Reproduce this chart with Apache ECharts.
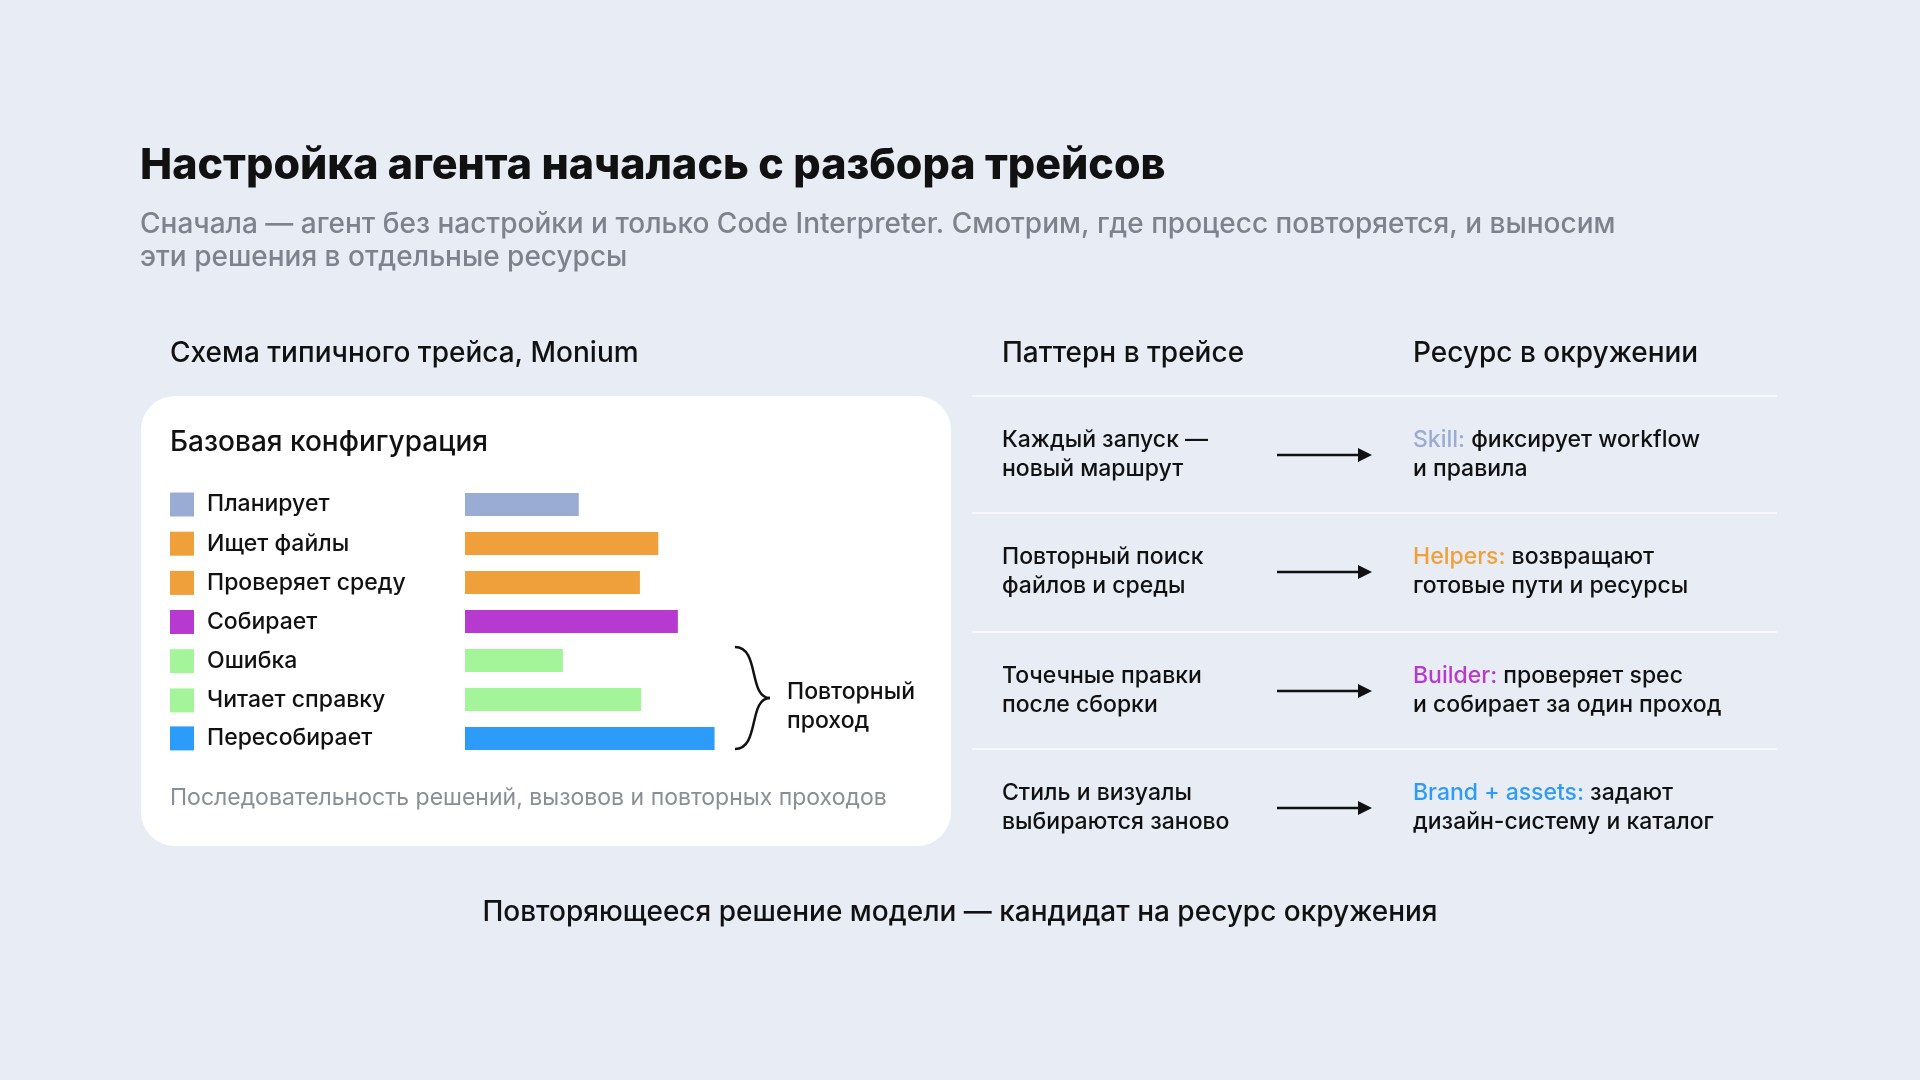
<!DOCTYPE html>
<html><head><meta charset="utf-8">
<script src="https://cdn.jsdelivr.net/npm/echarts@6/dist/echarts.min.js"></script>
<style>html,body{margin:0;padding:0;background:#e8ecf4;}#c{width:1920px;height:1080px;}</style>
</head><body><div id="c"></div>
<script>
const categories = ['Планирует','Ищет файлы','Проверяет среду','Собирает','Ошибка','Читает справку','Пересобирает'];
const durations = [93,158,143,174,80,144,204];
const colors = ['#9aabd4','#f0a03a','#f0a03a','#b63ad0','#a4f59a','#a4f59a','#2c9cf8'];
const patterns = [['Каждый запуск —','новый маршрут'],['Повторный поиск','файлов и среды'],['Точечные правки','после сборки'],['Стиль и визуалы','выбираются заново']];
const resources = [['Skill:',' фиксирует workflow','и правила','#9aabd4'],['Helpers:',' возвращают','готовые пути и ресурсы','#f0a03a'],['Builder:',' проверяет spec','и собирает за один проход','#b63ad0'],['Brand + assets:',' задают','дизайн-систему и каталог','#2c9cf8']];
const F='Inter, "Noto Sans", sans-serif';
const chart=echarts.init(document.getElementById('c'));
const g=[];
function t(x,y,text,size,opt){g.push({type:'text',x,y,style:Object.assign({text,fontSize:size,fontFamily:F,fill:'#111',verticalAlign:'middle'},opt||{})});}
t(140,166,'Настройка агента началась с разбора трейсов',43,{fontWeight:800});
t(140,225,'Сначала — агент без настройки и только Code Interpreter. Смотрим, где процесс повторяется, и выносим',28,{fill:'#7d828c',fontWeight:500});
t(140,258,'эти решения в отдельные ресурсы',28,{fill:'#7d828c',fontWeight:500});
t(170,354,'Схема типичного трейса, Monium',28,{fontWeight:500});
g.push({type:'rect',shape:{x:141,y:396,width:810,height:450,r:34},style:{fill:'#fff'},z:-1});
t(170,443,'Базовая конфигурация',28,{fontWeight:500});
const rowY=[504.5,543.7,582.9,622,661.2,700.4,738.4];
categories.forEach((c,i)=>{g.push({type:'rect',shape:{x:170,y:rowY[i]-12,width:24,height:24},style:{fill:colors[i]}});t(207,rowY[i],c,23,{fontWeight:500});});
g.push({type:'bezierCurve',shape:{x1:735,y1:647,cpx1:760,cpy1:647,cpx2:748,cpy2:698,x2:770,y2:698},style:{stroke:'#111',lineWidth:2.5,fill:null}});
g.push({type:'bezierCurve',shape:{x1:770,y1:698,cpx1:748,cpy1:698,cpx2:760,cpy2:749,x2:735,y2:749},style:{stroke:'#111',lineWidth:2.5,fill:null}});
t(787,692,'Повторный',23,{fontWeight:500});t(787,721,'проход',23,{fontWeight:500});
t(170,798,'Последовательность решений, вызовов и повторных проходов',23,{fill:'#8a8e96'});
t(1002,354,'Паттерн в трейсе',28,{fontWeight:500});
t(1413,354,'Ресурс в окружении',28,{fontWeight:500});
[396,513,632,749].forEach(y=>g.push({type:'line',shape:{x1:972,y1:y,x2:1777,y2:y},style:{stroke:'#f6f8fb',lineWidth:2}}));
const rowT=[440,557,676,793];
patterns.forEach((p,i)=>{const y=rowT[i];t(1002,y,p[0],23,{fontWeight:500});t(1002,y+29,p[1],23,{fontWeight:500});
 const ay=y+15;g.push({type:'line',shape:{x1:1277,y1:ay,x2:1360,y2:ay},style:{stroke:'#111',lineWidth:2.5}});
 g.push({type:'polygon',shape:{points:[[1358,ay-7],[1372,ay],[1358,ay+7]]},style:{fill:'#111'}});
 const r=resources[i];
 g.push({type:'text',x:1413,y:y,style:{text:'{a|'+r[0]+'}{b|'+r[1]+'}',verticalAlign:'middle',rich:{a:{fontSize:23,fontFamily:F,fontWeight:500,fill:r[3]},b:{fontSize:23,fontFamily:F,fontWeight:500,fill:'#111'}}}});
 t(1413,y+29,r[2],23,{fontWeight:500});});
t(960,913,'Повторяющееся решение модели — кандидат на ресурс окружения',28,{fontWeight:500,align:'center'});
chart.setOption({backgroundColor:'#e8ecf4',animation:false,
 grid:{left:465,top:485,width:367,height:273},
 xAxis:{type:'value',min:0,max:300,show:false},
 yAxis:{type:'category',data:categories,inverse:true,show:false},
 series:[{type:'bar',barWidth:23,data:durations.map((v,i)=>({value:v,itemStyle:{color:colors[i]}}))}],
 graphic:g});
</script></body></html>
